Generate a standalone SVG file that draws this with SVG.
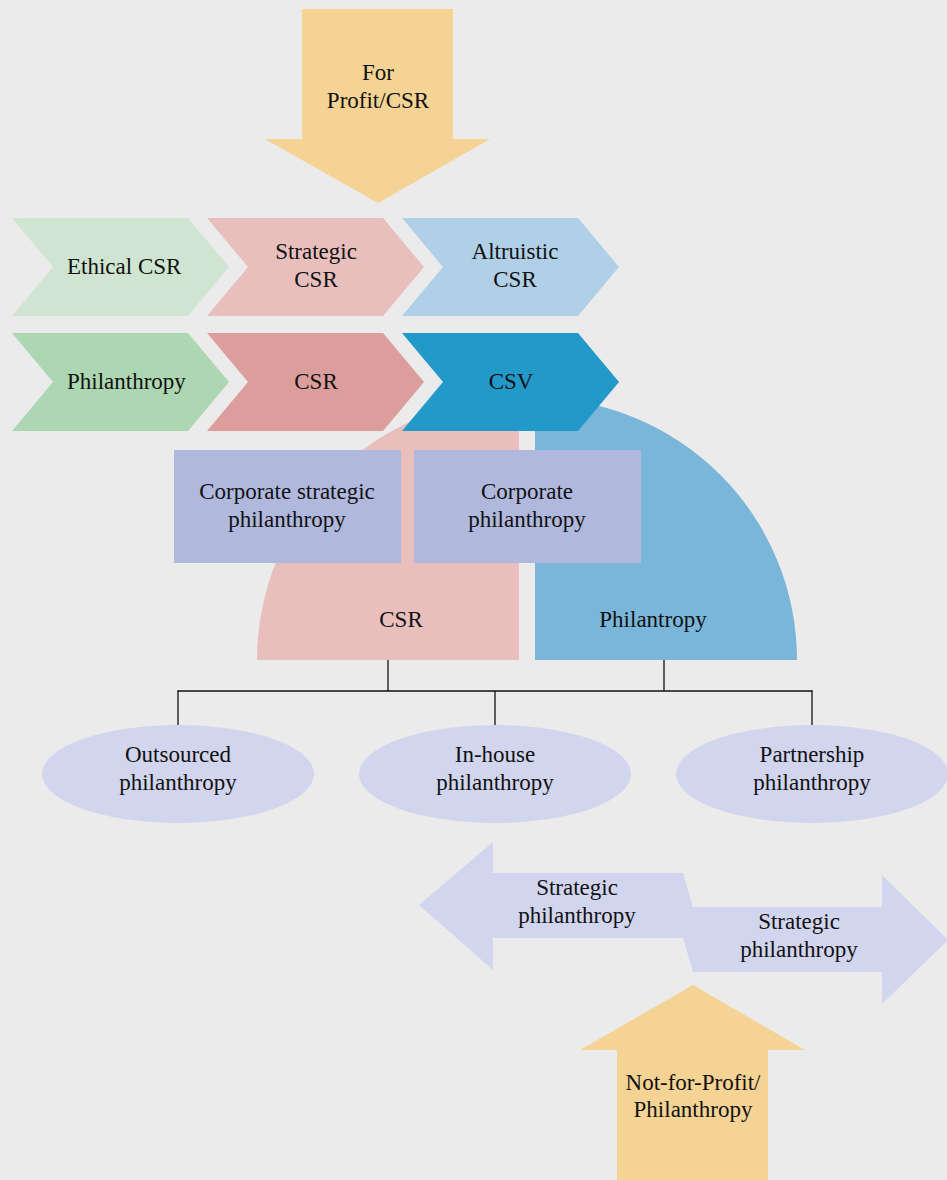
<svg xmlns="http://www.w3.org/2000/svg" width="947" height="1180" viewBox="0 0 947 1180">
<style>
text{font-family:"Liberation Serif","Times New Roman",serif;font-size:23px;fill:#111;text-anchor:middle}
.st{text-anchor:start}
.con{stroke:#111;stroke-width:1.3;fill:none}
.lav{fill:#d2d5ee}
.box{fill:#b0b8de}
.gold{fill:#f4d394}
</style>
<rect x="0" y="0" width="947" height="1180" fill="#ebebeb"/>
<g id="for-profit">
<path class="gold" d="M302 9 L453 9 L453 139 L490 139 L378 203 L265 139 L302 139 Z"/>
<text x="378" y="80">For</text>
<text x="378" y="108">Profit/CSR</text>
</g>
<g id="csr-quarter">
<path fill="#e8bfbd" d="M519 660 L257 660 A262 262 0 0 1 519 398 Z"/>
<text x="401" y="627">CSR</text>
</g>
<g id="philantropy-quarter">
<path fill="#7ab5da" d="M535 660 L535 398 A262 262 0 0 1 797 660 Z"/>
<text x="653" y="627">Philantropy</text>
</g>
<g id="ethical-csr">
<path fill="#cfe5d1" d="M12 218 L188 218 L229 267 L188 316 L12 316 L53 267 Z"/>
<text class="st" x="67" y="274">Ethical CSR</text>
</g>
<g id="strategic-csr">
<path fill="#e8bfbd" d="M207 218 L383 218 L424 267 L383 316 L207 316 L248 267 Z"/>
<text x="316" y="259">Strategic</text>
<text x="316" y="287">CSR</text>
</g>
<g id="altruistic-csr">
<path fill="#b0d0e8" d="M402 218 L578 218 L619 267 L578 316 L402 316 L443 267 Z"/>
<text x="515" y="259">Altruistic</text>
<text x="515" y="287">CSR</text>
</g>
<g id="philanthropy">
<path fill="#add6b2" d="M12 333 L188 333 L229 382 L188 431 L12 431 L53 382 Z"/>
<text class="st" x="67" y="389">Philanthropy</text>
</g>
<g id="csr">
<path fill="#db9e9c" d="M207 333 L383 333 L424 382 L383 431 L207 431 L248 382 Z"/>
<text x="316" y="389">CSR</text>
</g>
<g id="csv">
<path fill="#2399ca" d="M402 333 L578 333 L619 382 L578 431 L402 431 L443 382 Z"/>
<text x="511" y="389">CSV</text>
</g>
<g id="corporate-strategic-philanthropy">
<rect class="box" x="174" y="450" width="227" height="113"/>
<text x="287" y="499">Corporate strategic</text>
<text x="287" y="527">philanthropy</text>
</g>
<g id="corporate-philanthropy">
<rect class="box" x="414" y="450" width="227" height="113"/>
<text x="527" y="499">Corporate</text>
<text x="527" y="527">philanthropy</text>
</g>
<g id="connectors">
<line class="con" x1="388" y1="660" x2="388" y2="691"/>
<line class="con" x1="664" y1="660" x2="664" y2="691"/>
<line class="con" x1="177.5" y1="691" x2="812.5" y2="691"/>
<line class="con" x1="178" y1="690.4" x2="178" y2="726"/>
<line class="con" x1="495" y1="691" x2="495" y2="726"/>
<line class="con" x1="812" y1="690.4" x2="812" y2="726"/>
</g>
<g id="outsourced-philanthropy">
<ellipse class="lav" cx="178" cy="774" rx="136" ry="49"/>
<text x="178" y="762">Outsourced</text>
<text x="178" y="790">philanthropy</text>
</g>
<g id="in-house-philanthropy">
<ellipse class="lav" cx="495" cy="774" rx="136" ry="49"/>
<text x="495" y="762">In-house</text>
<text x="495" y="790">philanthropy</text>
</g>
<g id="partnership-philanthropy">
<ellipse class="lav" cx="812" cy="774" rx="136" ry="49"/>
<text x="812" y="762">Partnership</text>
<text x="812" y="790">philanthropy</text>
</g>
<g id="strategic-philanthropy-left">
<path class="lav" d="M419 905 L493 842 L493 873 L683 873 L702 938 L493 938 L493 970 Z"/>
<text x="577" y="895">Strategic</text>
<text x="577" y="923">philanthropy</text>
</g>
<g id="strategic-philanthropy-right">
<path class="lav" d="M674 907 L882 907 L882 875 L948 940 L882 1004 L882 972 L693 972 Z"/>
<text x="799" y="929">Strategic</text>
<text x="799" y="957">philanthropy</text>
</g>
<g id="not-for-profit">
<path class="gold" d="M617 1180 L617 1050 L580 1050 L693 985 L805 1050 L768 1050 L768 1180 Z"/>
<text x="693" y="1090">Not-for-Profit/</text>
<text x="693" y="1117">Philanthropy</text>
</g>
</svg>
